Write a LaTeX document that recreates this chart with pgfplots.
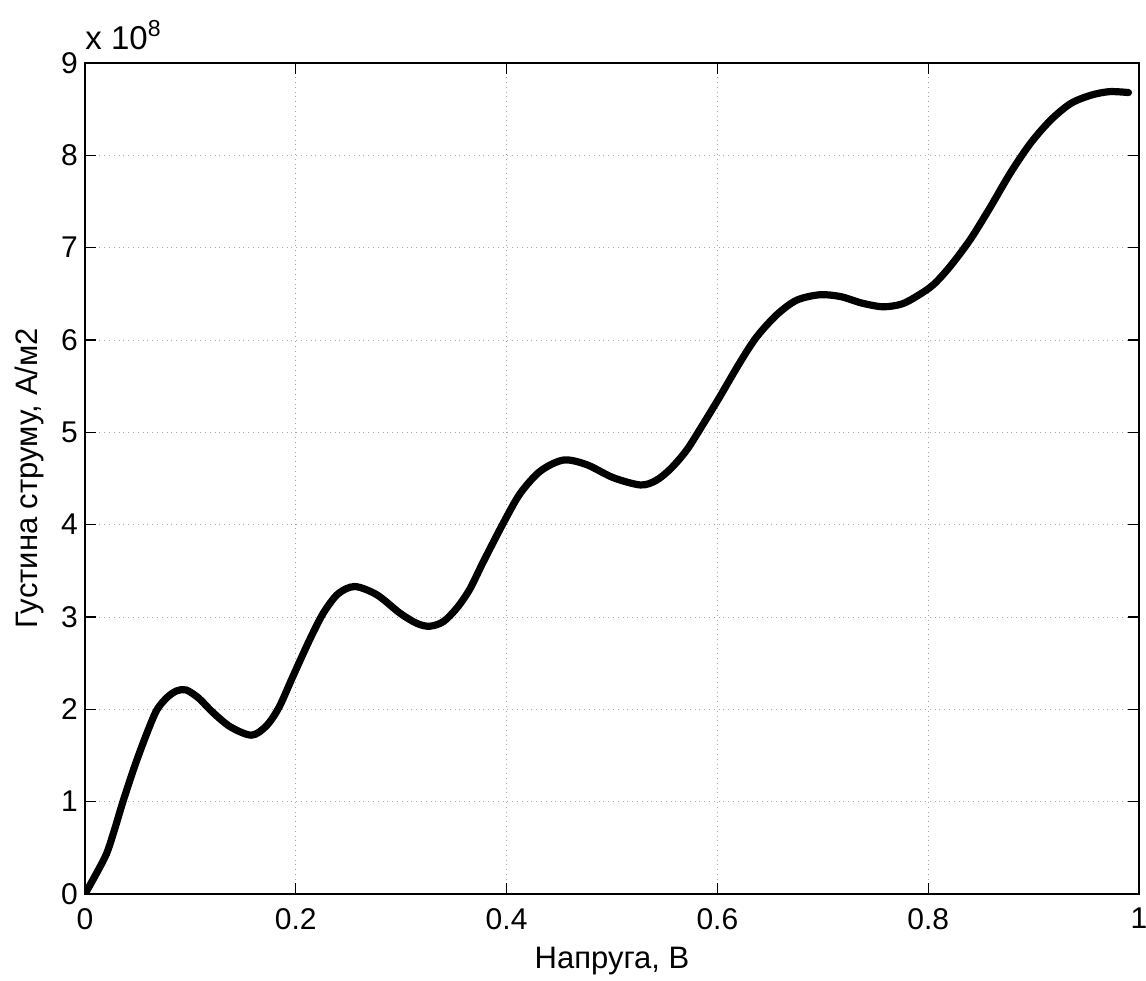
\documentclass[border=0pt]{standalone}
\usepackage{fontspec}
\setmainfont{Liberation Sans}
\usepackage{pgfplots}
\pgfplotsset{compat=1.18}
\begin{document}
\begin{tikzpicture}
\begin{axis}[
  name=ax,
  width=527pt, height=415.5pt,
  scale only axis,
  xmin=0, xmax=1, ymin=0, ymax=9,
  xtick={0,0.2,0.4,0.6,0.8,1},
  ytick={0,1,2,3,4,5,6,7,8,9},
  xticklabels={0,0.2,0.4,0.6,0.8,1},
  scaled ticks=false,
  tick align=inside,
  major tick length=5.5pt,
  tick style={black, line width=0.6pt},
  axis line style={black, line width=0.8pt},
  grid=major,
  major grid style={gray!70, dotted, line width=0.5pt},
  /pgf/number format/assume math mode=true,
  tick label style={font=\fontsize{15}{18}\selectfont},
  xticklabel style={yshift=-3.5pt},
  label style={font=\fontsize{15.5}{18}\selectfont},
  xlabel={Напруга, В},
  ylabel={Густина струму, А/м2},
  xlabel style={yshift=-2pt},
  ylabel style={yshift=2pt},
]
\addplot[black, line width=3.6pt, line join=round, line cap=round, smooth] coordinates {
(0,0)
(0.019,0.40)
(0.027,0.66)
(0.036,1.00)
(0.047,1.38)
(0.058,1.72)
(0.068,1.99)
(0.078,2.13)
(0.087,2.20)
(0.096,2.21)
(0.108,2.12)
(0.121,1.97)
(0.138,1.81)
(0.158,1.72)
(0.172,1.82)
(0.184,2.02)
(0.197,2.35)
(0.213,2.75)
(0.226,3.04)
(0.240,3.25)
(0.256,3.33)
(0.277,3.24)
(0.299,3.04)
(0.315,2.93)
(0.327,2.90)
(0.340,2.95)
(0.353,3.10)
(0.365,3.30)
(0.378,3.60)
(0.397,4.02)
(0.413,4.34)
(0.432,4.58)
(0.454,4.70)
(0.476,4.65)
(0.501,4.51)
(0.527,4.43)
(0.542,4.48)
(0.556,4.61)
(0.571,4.81)
(0.586,5.08)
(0.602,5.38)
(0.621,5.75)
(0.637,6.03)
(0.656,6.27)
(0.675,6.43)
(0.697,6.49)
(0.717,6.47)
(0.737,6.40)
(0.757,6.36)
(0.775,6.39)
(0.790,6.48)
(0.805,6.60)
(0.821,6.80)
(0.840,7.09)
(0.859,7.44)
(0.878,7.81)
(0.897,8.13)
(0.916,8.38)
(0.935,8.56)
(0.954,8.65)
(0.972,8.69)
(0.990,8.68)
};
\end{axis}
\node[anchor=base west, font=\fontsize{16.5}{19}\selectfont, inner sep=0pt] at ([yshift=7pt]ax.north west) {x 10\textsuperscript{8}};
\pgfresetboundingbox
\path[use as bounding box] ([xshift=-42.5pt, yshift=-43pt]ax.south west) rectangle ([xshift=530.5pt, yshift=447pt]ax.south west);
\end{tikzpicture}
\end{document}
